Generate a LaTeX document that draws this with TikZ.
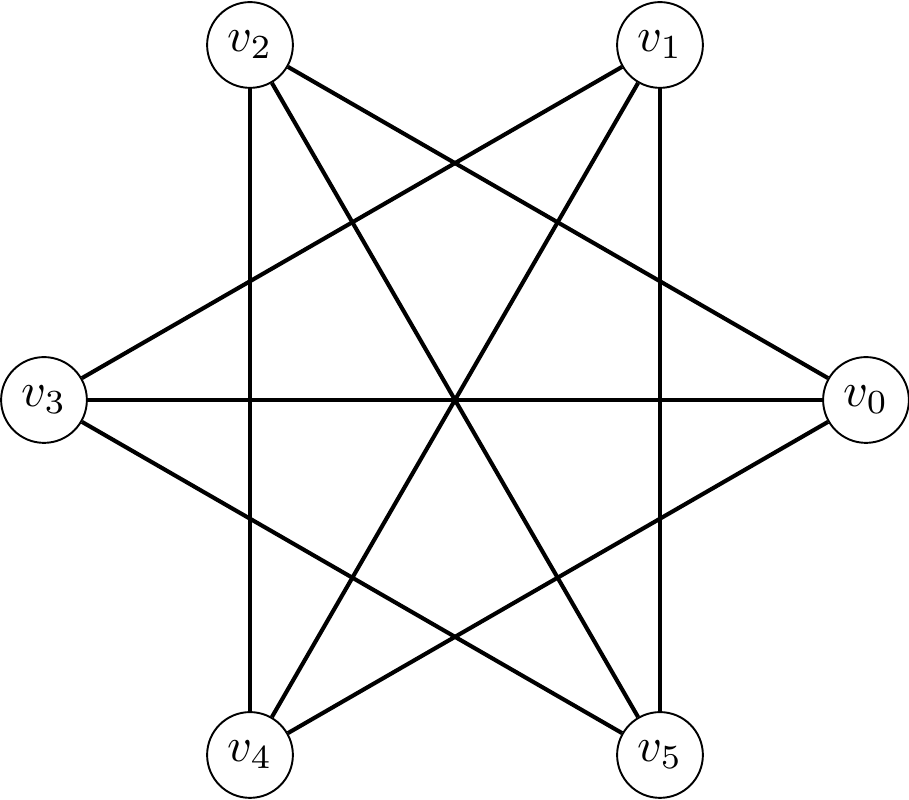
\documentclass[tikz,border=0pt]{standalone}
\usepackage{amsmath}
\usepackage{tikz}

\begin{document}
\begin{tikzpicture}[x=0.2075pt,y=0.2075pt,yscale=-1,xscale=1,
  vertex/.style={draw,circle,line width=0.4pt,fill=white,minimum size=17.8pt,inner sep=0.5pt},
  edge/.style={line width=0.85pt}]
\useasboundingbox (0,0) rectangle (909,800);

% Vertex Nodes
\node[vertex] (v0) at (866,400) {$v_0$};
\node[vertex] (v1) at (660,45) {$v_1$};
\node[vertex] (v2) at (250,45) {$v_2$};
\node[vertex] (v3) at (44,400) {$v_3$};
\node[vertex] (v4) at (250,755) {$v_4$};
\node[vertex] (v5) at (660,755) {$v_5$};

% Edges
\draw[edge] (v0) -- (v2);
\draw[edge] (v0) -- (v3);
\draw[edge] (v0) -- (v4);
\draw[edge] (v1) -- (v3);
\draw[edge] (v1) -- (v4);
\draw[edge] (v1) -- (v5);
\draw[edge] (v2) -- (v4);
\draw[edge] (v2) -- (v5);
\draw[edge] (v3) -- (v5);

\end{tikzpicture}
\end{document}
